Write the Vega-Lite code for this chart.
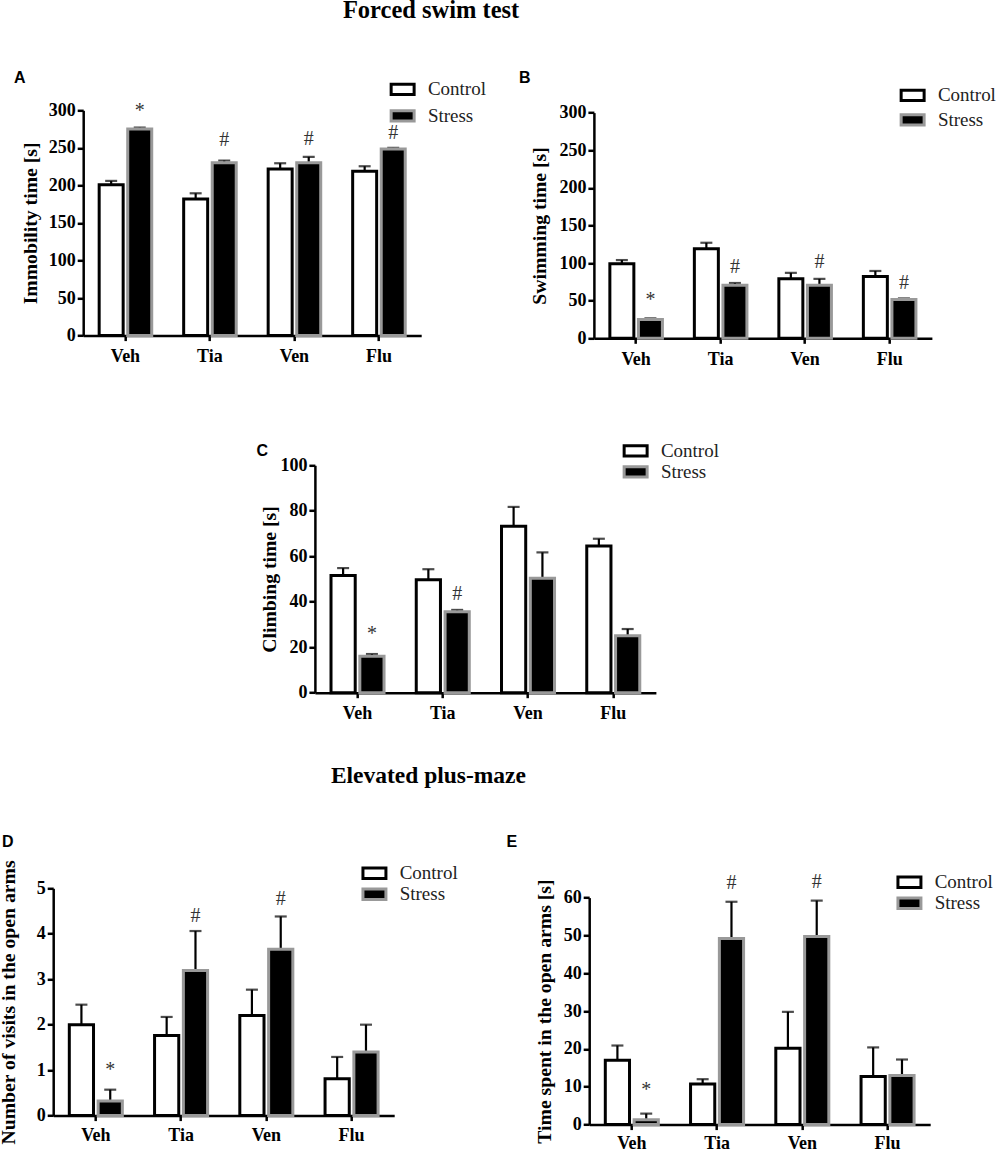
{
  "$schema": "https://vega.github.io/schema/vega-lite/v6.json",
  "background": "white",
  "padding": {"left": -2.8, "top": -2.7, "right": 0, "bottom": 0},
  "columns": 2,
  "bounds": "flush",
  "spacing": 0,
  "align": "each",
  "config": {
    "view": {"stroke": null},
    "axis": {
      "grid": false,
      "domainColor": "black",
      "tickColor": "black",
      "labelColor": "black",
      "titleColor": "black",
      "domainWidth": 2.5,
      "tickWidth": 2.5,
      "labelFont": "Liberation Serif",
      "titleFont": "Liberation Serif",
      "labelFontWeight": "bold",
      "titleFontWeight": "bold",
      "labelFontSize": 18,
      "titleFontSize": 19.7,
      "titleBaseline": "alphabetic",
      "labelOverlap": false
    },
    "axisY": {"tickSize": 6, "labelPadding": 2},
    "axisX": {"tickSize": 5, "labelPadding": 7, "labelAngle": 0},
    "legend": {
      "labelFont": "Liberation Serif",
      "labelFontSize": 19,
      "labelColor": "#222222",
      "symbolType": "M-1,-0.9H3V0.9H-1Z",
      "symbolSize": 132,
      "symbolStrokeWidth": 3,
      "labelOffset": 21.5,
      "title": null
    },
    "title": {
      "font": "Liberation Sans",
      "fontWeight": "bold",
      "fontSize": 16,
      "color": "black",
      "anchor": "start",
      "frame": "group"
    }
  },
  "datasets": {
    "a": [
      {"drug": "Veh", "group": "Control", "value": 201, "err_top": 206},
      {"drug": "Veh", "group": "Stress", "value": 275, "err_top": 277, "sig": "*", "sig_y": 299},
      {"drug": "Tia", "group": "Control", "value": 182, "err_top": 189.5},
      {"drug": "Tia", "group": "Stress", "value": 230, "err_top": 233, "sig": "#", "sig_y": 260},
      {"drug": "Ven", "group": "Control", "value": 222, "err_top": 229.5},
      {"drug": "Ven", "group": "Stress", "value": 230, "err_top": 238, "sig": "#", "sig_y": 262},
      {"drug": "Flu", "group": "Control", "value": 219, "err_top": 225.5},
      {"drug": "Flu", "group": "Stress", "value": 248.5, "err_top": 250, "sig": "#", "sig_y": 270}
    ],
    "b": [
      {"drug": "Veh", "group": "Control", "value": 99, "err_top": 104},
      {"drug": "Veh", "group": "Stress", "value": 25, "err_top": 26.5, "sig": "*", "sig_y": 51},
      {"drug": "Tia", "group": "Control", "value": 119, "err_top": 127},
      {"drug": "Tia", "group": "Stress", "value": 70.5, "err_top": 73.5, "sig": "#", "sig_y": 95},
      {"drug": "Ven", "group": "Control", "value": 79, "err_top": 87},
      {"drug": "Ven", "group": "Stress", "value": 70.5, "err_top": 79, "sig": "#", "sig_y": 101.5},
      {"drug": "Flu", "group": "Control", "value": 82, "err_top": 89.5},
      {"drug": "Flu", "group": "Stress", "value": 51.5, "err_top": 53, "sig": "#", "sig_y": 73.5}
    ],
    "c": [
      {"drug": "Veh", "group": "Control", "value": 51.5, "err_top": 54.8},
      {"drug": "Veh", "group": "Stress", "value": 16, "err_top": 17, "sig": "*", "sig_y": 25.8},
      {"drug": "Tia", "group": "Control", "value": 49.7, "err_top": 54.3},
      {"drug": "Tia", "group": "Stress", "value": 35.6, "err_top": 36.4, "sig": "#", "sig_y": 43.3},
      {"drug": "Ven", "group": "Control", "value": 73.2, "err_top": 81.7},
      {"drug": "Ven", "group": "Stress", "value": 50.3, "err_top": 61.7},
      {"drug": "Flu", "group": "Control", "value": 64.5, "err_top": 67.7},
      {"drug": "Flu", "group": "Stress", "value": 25, "err_top": 28}
    ],
    "d": [
      {"drug": "Veh", "group": "Control", "value": 2.0, "err_top": 2.44},
      {"drug": "Veh", "group": "Stress", "value": 0.32, "err_top": 0.57, "sig": "*", "sig_y": 1.0},
      {"drug": "Tia", "group": "Control", "value": 1.76, "err_top": 2.17},
      {"drug": "Tia", "group": "Stress", "value": 3.19, "err_top": 4.06, "sig": "#", "sig_y": 4.38},
      {"drug": "Ven", "group": "Control", "value": 2.2, "err_top": 2.77},
      {"drug": "Ven", "group": "Stress", "value": 3.66, "err_top": 4.38, "sig": "#", "sig_y": 4.76},
      {"drug": "Flu", "group": "Control", "value": 0.81, "err_top": 1.29},
      {"drug": "Flu", "group": "Stress", "value": 1.4, "err_top": 2.0}
    ],
    "e": [
      {"drug": "Veh", "group": "Control", "value": 17, "err_top": 20.9},
      {"drug": "Veh", "group": "Stress", "value": 1.3, "err_top": 2.9, "sig": "*", "sig_y": 9.25},
      {"drug": "Tia", "group": "Control", "value": 10.7, "err_top": 12},
      {"drug": "Tia", "group": "Stress", "value": 49.2, "err_top": 58.9, "sig": "#", "sig_y": 63.9},
      {"drug": "Ven", "group": "Control", "value": 20.2, "err_top": 29.8},
      {"drug": "Ven", "group": "Stress", "value": 49.7, "err_top": 59.2, "sig": "#", "sig_y": 64.1},
      {"drug": "Flu", "group": "Control", "value": 12.7, "err_top": 20.4},
      {"drug": "Flu", "group": "Stress", "value": 13, "err_top": 17.2}
    ]
  },
  "concat": [
    {"width": 536, "height": 86.3, "mark": "text", "data": {"values": []},
     "title": {"text": "Forced swim test", "font": "Liberation Serif", "fontSize": 24.5, "dx": 289.7, "offset": 0}},
    {"width": 1, "height": 1, "mark": "text", "data": {"values": []}},

    {
      "width": 536, "height": 225.3,
      "title": {"text": "A", "dx": -39.3, "dy": 6, "offset": 0},
      "data": {"name": "a"},
      "encoding": {
        "x": {"field": "drug", "type": "nominal", "sort": null, "title": null,
              "scale": {"domain": ["Veh", "Tia", "Ven", "Flu"], "range": [30, 368], "paddingInner": 0.378, "paddingOuter": 0.189}},
        "xOffset": {"field": "group", "type": "nominal", "sort": null,
                    "scale": {"domain": ["Control", "Stress"], "paddingInner": 0.16, "paddingOuter": 0}}
      },
      "layer": [
        {"mark": {"type": "rule", "color": "black", "strokeWidth": 2.2},
         "encoding": {"y": {"field": "value", "type": "quantitative", "scale": {"domain": [0, 300]},
                            "axis": {"title": "Immobility time [s]", "values": [0, 50, 100, 150, 200, 250, 300], "tickCount": 7, "titleX": -47, "offset": -30}},
                      "y2": {"field": "err_top"}}},
        {"mark": {"type": "tick", "color": "black", "size": 12, "thickness": 2.2},
         "encoding": {"y": {"field": "err_top", "type": "quantitative", "axis": {"title": "Immobility time [s]", "values": [0, 50, 100, 150, 200, 250, 300], "tickCount": 7}}}},
        {"mark": {"type": "bar", "strokeWidth": 3},
         "encoding": {
           "y": {"field": "value", "type": "quantitative", "axis": {"title": "Immobility time [s]", "values": [0, 50, 100, 150, 200, 250, 300], "tickCount": 7}},
           "fill": {"field": "group", "type": "nominal", "scale": {"domain": ["Control", "Stress"], "range": ["white", "black"]},
                    "legend": {"orient": "none", "legendX": 334.2, "legendY": -30.5, "rowPadding": 3.5}},
           "stroke": {"field": "group", "type": "nominal", "scale": {"domain": ["Control", "Stress"], "range": ["black", "#999999"]},
                      "legend": {"orient": "none", "legendX": 334.2, "legendY": -30.5, "rowPadding": 3.5}}
         }},
        {"transform": [{"filter": "datum.sig"}],
         "mark": {"type": "text", "font": "Liberation Serif", "fontSize": 20, "color": "#333333", "baseline": "middle"},
         "encoding": {"y": {"field": "sig_y", "type": "quantitative", "axis": {"title": "Immobility time [s]", "values": [0, 50, 100, 150, 200, 250, 300], "tickCount": 7}}, "text": {"field": "sig"}}}
      ]
    },
    {
      "width": 343, "height": 228,
      "title": {"text": "B", "dx": -70.3, "dy": 0, "offset": 0},
      "data": {"name": "b"},
      "encoding": {
        "x": {"field": "drug", "type": "nominal", "sort": null, "title": null,
              "scale": {"domain": ["Veh", "Tia", "Ven", "Flu"], "range": [4.7, 342.7], "paddingInner": 0.378, "paddingOuter": 0.189}},
        "xOffset": {"field": "group", "type": "nominal", "sort": null,
                    "scale": {"domain": ["Control", "Stress"], "paddingInner": 0.16, "paddingOuter": 0}}
      },
      "layer": [
        {"mark": {"type": "rule", "color": "black", "strokeWidth": 2.2},
         "encoding": {"y": {"field": "value", "type": "quantitative", "scale": {"domain": [0, 300], "range": [228, 2.3]},
                            "axis": {"title": "Swimming time [s]", "values": [0, 50, 100, 150, 200, 250, 300], "tickCount": 7, "titleX": -48, "offset": -4.7}},
                      "y2": {"field": "err_top"}}},
        {"mark": {"type": "tick", "color": "black", "size": 12, "thickness": 2.2},
         "encoding": {"y": {"field": "err_top", "type": "quantitative", "axis": {"title": "Swimming time [s]", "values": [0, 50, 100, 150, 200, 250, 300], "tickCount": 7}}}},
        {"mark": {"type": "bar", "strokeWidth": 3},
         "encoding": {
           "y": {"field": "value", "type": "quantitative", "axis": {"title": "Swimming time [s]", "values": [0, 50, 100, 150, 200, 250, 300], "tickCount": 7}},
           "fill": {"field": "group", "type": "nominal", "scale": {"domain": ["Control", "Stress"], "range": ["white", "black"]},
                    "legend": {"orient": "none", "legendX": 308.2, "legendY": -24.5, "rowPadding": 1.5}},
           "stroke": {"field": "group", "type": "nominal", "scale": {"domain": ["Control", "Stress"], "range": ["black", "#999999"]},
                      "legend": {"orient": "none", "legendX": 308.2, "legendY": -24.5, "rowPadding": 1.5}}
         }},
        {"transform": [{"filter": "datum.sig"}],
         "mark": {"type": "text", "font": "Liberation Serif", "fontSize": 20, "color": "#333333", "baseline": "middle"},
         "encoding": {"y": {"field": "sig_y", "type": "quantitative", "axis": {"title": "Swimming time [s]", "values": [0, 50, 100, 150, 200, 250, 300], "tickCount": 7}}, "text": {"field": "sig"}}}
      ]
    },

    {"width": 1, "height": 126.7, "mark": "text", "data": {"values": []}},
    {"width": 1, "height": 1, "mark": "text", "data": {"values": []}},

    {
      "width": 536, "height": 227.4,
      "title": {"text": "C", "dx": 203.4, "dy": 17.5, "offset": 0},
      "data": {"name": "c"},
      "encoding": {
        "x": {"field": "drug", "type": "nominal", "sort": null, "title": null,
              "scale": {"domain": ["Veh", "Tia", "Ven", "Flu"], "range": [261.7, 602.7], "paddingInner": 0.378, "paddingOuter": 0.189}},
        "xOffset": {"field": "group", "type": "nominal", "sort": null,
                    "scale": {"domain": ["Control", "Stress"], "paddingInner": 0.16, "paddingOuter": 0}}
      },
      "layer": [
        {"mark": {"type": "rule", "color": "black", "strokeWidth": 2.2},
         "encoding": {"y": {"field": "value", "type": "quantitative", "scale": {"domain": [0, 100]},
                            "axis": {"title": "Climbing time [s]", "values": [0, 20, 40, 60, 80, 100], "titleX": -39, "offset": -261.7}},
                      "y2": {"field": "err_top"}}},
        {"mark": {"type": "tick", "color": "black", "size": 12, "thickness": 2.2},
         "encoding": {"y": {"field": "err_top", "type": "quantitative", "axis": {"title": "Climbing time [s]", "values": [0, 20, 40, 60, 80, 100]}}}},
        {"mark": {"type": "bar", "strokeWidth": 3},
         "encoding": {
           "y": {"field": "value", "type": "quantitative", "axis": {"title": "Climbing time [s]", "values": [0, 20, 40, 60, 80, 100]}},
           "fill": {"field": "group", "type": "nominal", "scale": {"domain": ["Control", "Stress"], "range": ["white", "black"]},
                    "legend": {"orient": "none", "legendX": 567.2, "legendY": -24, "rowPadding": -2}},
           "stroke": {"field": "group", "type": "nominal", "scale": {"domain": ["Control", "Stress"], "range": ["black", "#999999"]},
                      "legend": {"orient": "none", "legendX": 567.2, "legendY": -24, "rowPadding": -2}}
         }},
        {"transform": [{"filter": "datum.sig"}],
         "mark": {"type": "text", "font": "Liberation Serif", "fontSize": 20, "color": "#333333", "baseline": "middle"},
         "encoding": {"y": {"field": "sig_y", "type": "quantitative", "axis": {"title": "Climbing time [s]", "values": [0, 20, 40, 60, 80, 100]}}, "text": {"field": "sig"}}}
      ]
    },
    {"width": 1, "height": 1, "mark": "text", "data": {"values": []}},

    {"width": 1, "height": 93.6, "mark": "text", "data": {"values": []}},
    {"width": 1, "height": 1, "mark": "text", "data": {"values": []}},

    {"width": 536, "height": 100.3, "mark": "text", "data": {"values": []},
     "title": {"text": "Elevated plus-maze", "font": "Liberation Serif", "fontSize": 23.5, "dx": 277.7, "offset": 0}},
    {"width": 1, "height": 1, "mark": "text", "data": {"values": []}},

    {
      "width": 536, "height": 227.3,
      "title": {"text": "D", "dx": -51.3, "dy": -10, "offset": 0},
      "data": {"name": "d"},
      "encoding": {
        "x": {"field": "drug", "type": "nominal", "sort": null, "title": null, "axis": {"labelPadding": 6},
              "scale": {"domain": ["Veh", "Tia", "Ven", "Flu"], "range": [0, 341], "paddingInner": 0.378, "paddingOuter": 0.189}},
        "xOffset": {"field": "group", "type": "nominal", "sort": null,
                    "scale": {"domain": ["Control", "Stress"], "paddingInner": 0.16, "paddingOuter": 0}}
      },
      "layer": [
        {"mark": {"type": "rule", "color": "black", "strokeWidth": 2.2},
         "encoding": {"y": {"field": "value", "type": "quantitative", "scale": {"domain": [0, 5]},
                            "axis": {"title": "Number of visits in the open arms", "values": [0, 1, 2, 3, 4, 5], "titleX": -39}},
                      "y2": {"field": "err_top"}}},
        {"mark": {"type": "tick", "color": "black", "size": 12, "thickness": 2.2},
         "encoding": {"y": {"field": "err_top", "type": "quantitative", "axis": {"title": "Number of visits in the open arms", "values": [0, 1, 2, 3, 4, 5]}}}},
        {"mark": {"type": "bar", "strokeWidth": 3},
         "encoding": {
           "y": {"field": "value", "type": "quantitative", "axis": {"title": "Number of visits in the open arms", "values": [0, 1, 2, 3, 4, 5]}},
           "fill": {"field": "group", "type": "nominal", "scale": {"domain": ["Control", "Stress"], "range": ["white", "black"]},
                    "legend": {"orient": "none", "legendX": 306, "legendY": -24.5, "rowPadding": -2}},
           "stroke": {"field": "group", "type": "nominal", "scale": {"domain": ["Control", "Stress"], "range": ["black", "#999999"]},
                      "legend": {"orient": "none", "legendX": 306, "legendY": -24.5, "rowPadding": -2}}
         }},
        {"transform": [{"filter": "datum.sig"}],
         "mark": {"type": "text", "font": "Liberation Serif", "fontSize": 20, "color": "#333333", "baseline": "middle"},
         "encoding": {"y": {"field": "sig_y", "type": "quantitative", "axis": {"title": "Number of visits in the open arms", "values": [0, 1, 2, 3, 4, 5]}}, "text": {"field": "sig"}}}
      ]
    },
    {
      "width": 341, "height": 236.3,
      "title": {"text": "E", "dx": -82.6, "dy": -21.6, "offset": 0},
      "data": {"name": "e"},
      "encoding": {
        "x": {"field": "drug", "type": "nominal", "sort": null, "title": null, "axis": {"labelPadding": 5},
              "scale": {"domain": ["Veh", "Tia", "Ven", "Flu"], "paddingInner": 0.378, "paddingOuter": 0.189}},
        "xOffset": {"field": "group", "type": "nominal", "sort": null,
                    "scale": {"domain": ["Control", "Stress"], "paddingInner": 0.16, "paddingOuter": 0}}
      },
      "layer": [
        {"mark": {"type": "rule", "color": "black", "strokeWidth": 2.2},
         "encoding": {"y": {"field": "value", "type": "quantitative", "scale": {"domain": [0, 60], "range": [236.3, 9.3]},
                            "axis": {"title": "Time spent in the open arms [s]", "values": [0, 10, 20, 30, 40, 50, 60], "tickCount": 7, "titleX": -39}},
                      "y2": {"field": "err_top"}}},
        {"mark": {"type": "tick", "color": "black", "size": 12, "thickness": 2.2},
         "encoding": {"y": {"field": "err_top", "type": "quantitative", "axis": {"title": "Time spent in the open arms [s]", "values": [0, 10, 20, 30, 40, 50, 60], "tickCount": 7}}}},
        {"mark": {"type": "bar", "strokeWidth": 3},
         "encoding": {
           "y": {"field": "value", "type": "quantitative", "axis": {"title": "Time spent in the open arms [s]", "values": [0, 10, 20, 30, 40, 50, 60], "tickCount": 7}},
           "fill": {"field": "group", "type": "nominal", "scale": {"domain": ["Control", "Stress"], "range": ["white", "black"]},
                    "legend": {"orient": "none", "legendX": 305, "legendY": -15.5, "rowPadding": -2.3}},
           "stroke": {"field": "group", "type": "nominal", "scale": {"domain": ["Control", "Stress"], "range": ["black", "#999999"]},
                      "legend": {"orient": "none", "legendX": 305, "legendY": -15.5, "rowPadding": -2.3}}
         }},
        {"transform": [{"filter": "datum.sig"}],
         "mark": {"type": "text", "font": "Liberation Serif", "fontSize": 20, "color": "#333333", "baseline": "middle"},
         "encoding": {"y": {"field": "sig_y", "type": "quantitative", "axis": {"title": "Time spent in the open arms [s]", "values": [0, 10, 20, 30, 40, 50, 60], "tickCount": 7}}, "text": {"field": "sig"}}}
      ]
    }
  ],
  "resolve": {"scale": {"fill": "independent", "stroke": "independent", "y": "independent", "x": "independent", "xOffset": "independent"}}
}
